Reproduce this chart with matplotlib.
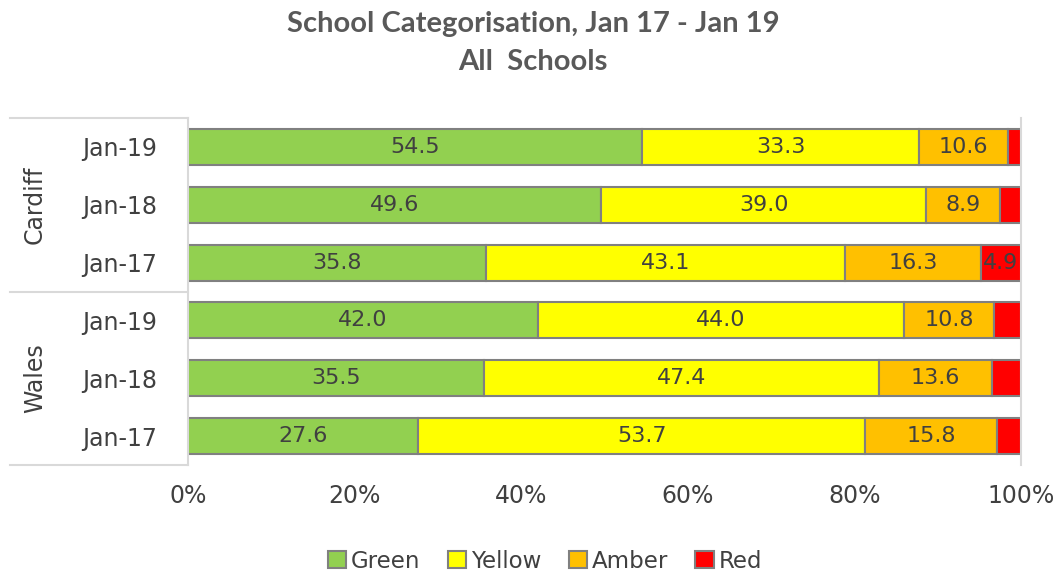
import numpy as np
import matplotlib.pyplot as plt
from matplotlib.patches import Patch
import matplotlib.transforms as mtransforms

# School categorisation shares (%), top row first
groups = ['Cardiff', 'Wales']
years = ['Jan-19', 'Jan-18', 'Jan-17', 'Jan-19', 'Jan-18', 'Jan-17']
green = [54.5, 49.6, 35.8, 42.0, 35.5, 27.6]
yellow = [33.3, 39.0, 43.1, 44.0, 47.4, 53.7]
amber = [10.6, 8.9, 16.3, 10.8, 13.6, 15.8]
red = [1.6, 2.5, 4.9, 3.2, 3.5, 2.9]

series = ['Green', 'Yellow', 'Amber', 'Red']
colors = ['#92D050', '#FFFF00', '#FFC000', '#FF0000']
txt = '#404040'
edge = '#808080'
line = '#D9D9D9'

fig = plt.figure(figsize=(10.6, 5.73), dpi=100)
ax = fig.add_axes([188/1060, 1-465/573, 833/1060, 347/573])

y = np.arange(len(years))
left = np.zeros(len(years))
for name, vals, c in zip(series, [green, yellow, amber, red], colors):
    vals = np.array(vals)
    bars = ax.barh(y, vals, left=left, height=0.62, color=c, edgecolor=edge,
                   linewidth=1.5, label=name)
    labels = ['%.1f' % v if v >= 4 else '' for v in vals]
    ax.bar_label(bars, labels=labels, label_type='center', color=txt, fontsize=16)
    left += vals

ax.set_xlim(0, 100)
ax.set_ylim(len(years) - 0.5, -0.5)
ax.set_xticks([0, 20, 40, 60, 80, 100])
ax.set_xticklabels(['%d%%' % v for v in [0, 20, 40, 60, 80, 100]])
ax.set_yticks(y)
ax.set_yticklabels(years)
ax.tick_params(axis='both', length=0, labelsize=17, labelcolor=txt)
ax.tick_params(axis='y', pad=22)
ax.tick_params(axis='x', pad=14)
for s in ['top', 'bottom', 'left']:
    ax.spines[s].set_visible(False)
ax.spines['right'].set_color(line)
ax.spines['right'].set_linewidth(1.5)

# category grouping box on the left
tr = mtransforms.blended_transform_factory(ax.transAxes, ax.transData)
x0 = (10 - 188) / 833
for yy in [-0.5, 2.5, 5.5]:
    ax.plot([x0, 0], [yy, yy], color=line, lw=1.5, transform=tr, clip_on=False)
ax.plot([0, 0], [-0.5, 5.5], color=line, lw=1.5, transform=tr, clip_on=False)
gx = (35 - 188) / 833
ax.text(gx, 1, groups[0], rotation=90, ha='center', va='center', transform=tr,
        fontsize=17, color=txt)
ax.text(gx, 4, groups[1], rotation=90, ha='center', va='center', transform=tr,
        fontsize=17, color=txt)

fig.text(0.503, 1 - 24/573, 'School Categorisation, Jan 17 - Jan 19', ha='center',
         va='center', fontsize=21, fontweight='bold', color='#595959', family='Lato')
fig.text(0.503, 1 - 62/573, 'All  Schools', ha='center', va='center', fontsize=21,
         fontweight='bold', color='#595959', family='Lato')

handles = [Patch(facecolor=c, edgecolor=edge, linewidth=1.5) for c in colors]
fig.legend(handles, series, loc='center', bbox_to_anchor=(0.514, 1 - 561/573), ncol=4,
           frameon=False, fontsize=16.5, labelcolor=txt, handlelength=0.8,
           handleheight=0.8, handletextpad=0.2, columnspacing=1.2)

fig.savefig('out.png', dpi=100)
